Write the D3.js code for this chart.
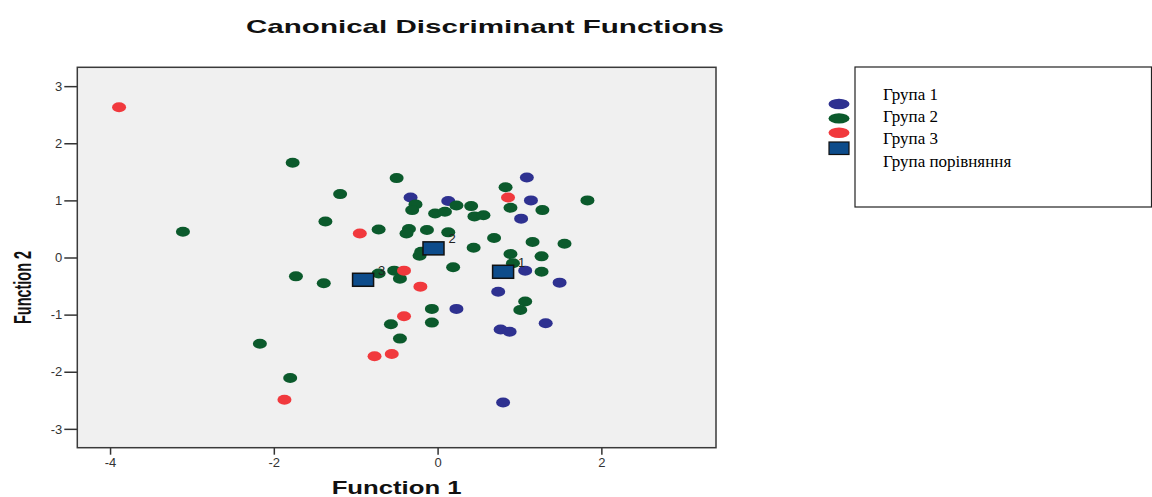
<!DOCTYPE html>
<html>
<head>
<meta charset="utf-8">
<script src="https://cdn.jsdelivr.net/npm/d3@7"></script>
<style>
  html, body { margin: 0; padding: 0; background: #fff; }
  svg { display: block; }
</style>
</head>
<body>
<svg id="chart" width="1152" height="497"></svg>
<script>
// Discriminant scores: [Function 1, Function 2]
const group1 = [
  [1.09, 1.40], [1.14, 1.00], [-0.33, 1.05], [0.13, 0.99], [1.02, 0.68],
  [1.07, -0.23], [1.49, -0.44], [0.74, -0.60], [0.23, -0.90], [1.32, -1.15],
  [0.77, -1.26], [0.88, -1.30], [0.80, -2.54]
];
const group2 = [
  [-1.77, 1.66], [-0.50, 1.39], [-1.19, 1.11], [-1.37, 0.63], [-0.72, 0.49],
  [-3.11, 0.45], [0.83, 1.23], [1.83, 1.00], [-0.27, 0.93], [-0.31, 0.83],
  [0.23, 0.91], [0.41, 0.90], [-0.03, 0.77], [0.09, 0.80], [0.45, 0.72],
  [0.56, 0.74], [0.89, 0.87], [1.28, 0.83], [-0.35, 0.50], [-0.38, 0.42],
  [-0.13, 0.48], [0.13, 0.44], [-0.20, 0.10], [-0.22, 0.03], [0.44, 0.17],
  [0.69, 0.34], [1.16, 0.27], [1.55, 0.24], [0.89, 0.06], [1.27, 0.02],
  [0.92, -0.10], [1.27, -0.25], [0.19, -0.17], [-0.53, -0.23], [-0.46, -0.37],
  [-0.72, -0.28], [-1.73, -0.33], [-1.39, -0.45], [1.07, -0.77], [1.01, -0.92],
  [-0.07, -0.90], [-0.07, -1.14], [-0.57, -1.17], [-0.46, -1.42], [-2.17, -1.51],
  [-1.80, -2.11]
];
const group3 = [
  [-3.89, 2.63], [-0.95, 0.42], [0.86, 1.05], [-0.41, -0.23], [-0.21, -0.51],
  [-0.41, -1.03], [-0.56, -1.69], [-0.77, -1.73], [-1.87, -2.49]
];
// Group centroids
const centroidLabels = ["1", "2", "3"];
const centroids = [[0.80, -0.25], [-0.05, 0.16], [-0.91, -0.39]];

const legendLabels = ["Група 1", "Група 2", "Група 3", "Група порівняння"];
const xTicks = [-4, -2, 0, 2];
const yTicks = [-3, -2, -1, 0, 1, 2, 3];

const colors = { g1: "#2e3190", g2: "#0b5a2c", g3: "#f1393d", centroid: "#0d4c8b" };

const svg = d3.select("#chart");
const plot = { left: 77.3, right: 716, top: 67.3, bottom: 447.7 };

const x = d3.scaleLinear().domain([-4.4, 3.4]).range([plot.left, plot.right]);
const y = d3.scaleLinear().domain([-3.33, 3.33]).range([plot.bottom, plot.top]);

// Title
svg.append("text")
  .attr("x", 246).attr("y", 33)
  .attr("textLength", 478).attr("lengthAdjust", "spacingAndGlyphs")
  .style("font-family", "Liberation Sans, Arial, sans-serif")
  .style("font-weight", "bold").style("font-size", "19px").style("fill", "#111")
  .text("Canonical Discriminant Functions");

// Plot background
svg.append("rect")
  .attr("x", plot.left).attr("y", plot.top)
  .attr("width", plot.right - plot.left).attr("height", plot.bottom - plot.top)
  .attr("fill", "#f0f0f0");

// Axes
const axisFont = "Liberation Sans, Arial, sans-serif";
const plain = d => String(d);
const gx = svg.append("g")
  .attr("transform", `translate(0,${plot.bottom})`)
  .call(d3.axisBottom(x).tickValues(xTicks).tickFormat(plain)
    .tickSize(7).tickPadding(3).tickSizeOuter(0));
const gy = svg.append("g")
  .attr("transform", `translate(${plot.left},0)`)
  .call(d3.axisLeft(y).tickValues(yTicks).tickFormat(plain)
    .tickSize(13).tickPadding(2).tickSizeOuter(0));
[gx, gy].forEach(g => {
  g.select(".domain").remove();
  g.selectAll(".tick line").attr("stroke", "#333").attr("stroke-width", 1.5);
  g.selectAll(".tick text")
    .style("font-family", axisFont).style("font-size", "13px").style("fill", "#333");
});

// Frame
svg.append("rect")
  .attr("x", plot.left).attr("y", plot.top)
  .attr("width", plot.right - plot.left).attr("height", plot.bottom - plot.top)
  .attr("fill", "none").attr("stroke", "#3a3a3a").attr("stroke-width", 1.5);

// Axis titles
svg.append("text")
  .attr("x", (plot.left + plot.right) / 2).attr("y", 494)
  .attr("text-anchor", "middle")
  .attr("textLength", 130).attr("lengthAdjust", "spacingAndGlyphs")
  .style("font-family", axisFont).style("font-weight", "bold").style("font-size", "18px")
  .style("fill", "#111")
  .text("Function 1");

svg.append("text")
  .attr("transform", `translate(31,${(plot.top + plot.bottom) / 2 + 30}) rotate(-90)`)
  .attr("text-anchor", "middle")
  .attr("textLength", 73).attr("lengthAdjust", "spacingAndGlyphs")
  .style("font-family", axisFont).style("font-weight", "bold").style("font-size", "24px")
  .style("fill", "#111")
  .text("Function 2");

// Points
const pts = svg.append("g");
function drawGroup(data, color) {
  pts.selectAll(null).data(data).enter().append("ellipse")
    .attr("cx", d => x(d[0])).attr("cy", d => y(d[1]))
    .attr("rx", 7).attr("ry", 5)
    .attr("fill", color);
}
drawGroup(group1, colors.g1);
drawGroup(group2, colors.g2);
drawGroup(group3, colors.g3);

// Centroids
const cw = 21, ch = 13;
svg.append("g").selectAll("rect").data(centroids).enter().append("rect")
  .attr("x", d => x(d[0]) - cw / 2).attr("y", d => y(d[1]) - ch / 2)
  .attr("width", cw).attr("height", ch)
  .attr("fill", colors.centroid).attr("stroke", "#111").attr("stroke-width", 1.5);
svg.append("g").selectAll("text").data(centroids).enter().append("text")
  .attr("x", d => x(d[0]) + 15).attr("y", d => y(d[1]) - 5)
  .style("font-family", axisFont).style("font-size", "13px").style("fill", "#222")
  .text((d, i) => centroidLabels[i]);

// Legend
const legend = svg.append("g");
legend.append("rect")
  .attr("x", 855).attr("y", 67).attr("width", 296.5).attr("height", 140)
  .attr("fill", "#fff").attr("stroke", "#222").attr("stroke-width", 1.2);
legendLabels.forEach((t, i) => {
  legend.append("text")
    .attr("x", 883).attr("y", 100 + i * 22.2)
    .style("font-family", "Liberation Serif, Times New Roman, serif")
    .style("font-size", "17px").style("fill", "#000")
    .text(t);
});
const symColors = [colors.g1, colors.g2, colors.g3];
symColors.forEach((c, i) => {
  legend.append("ellipse")
    .attr("cx", 839).attr("cy", 104 + i * 14.4)
    .attr("rx", 10.5).attr("ry", 5.2).attr("fill", c);
});
legend.append("rect")
  .attr("x", 829).attr("y", 142).attr("width", 20).attr("height", 12.5)
  .attr("fill", colors.centroid).attr("stroke", "#111").attr("stroke-width", 1.2);
</script>
</body>
</html>
